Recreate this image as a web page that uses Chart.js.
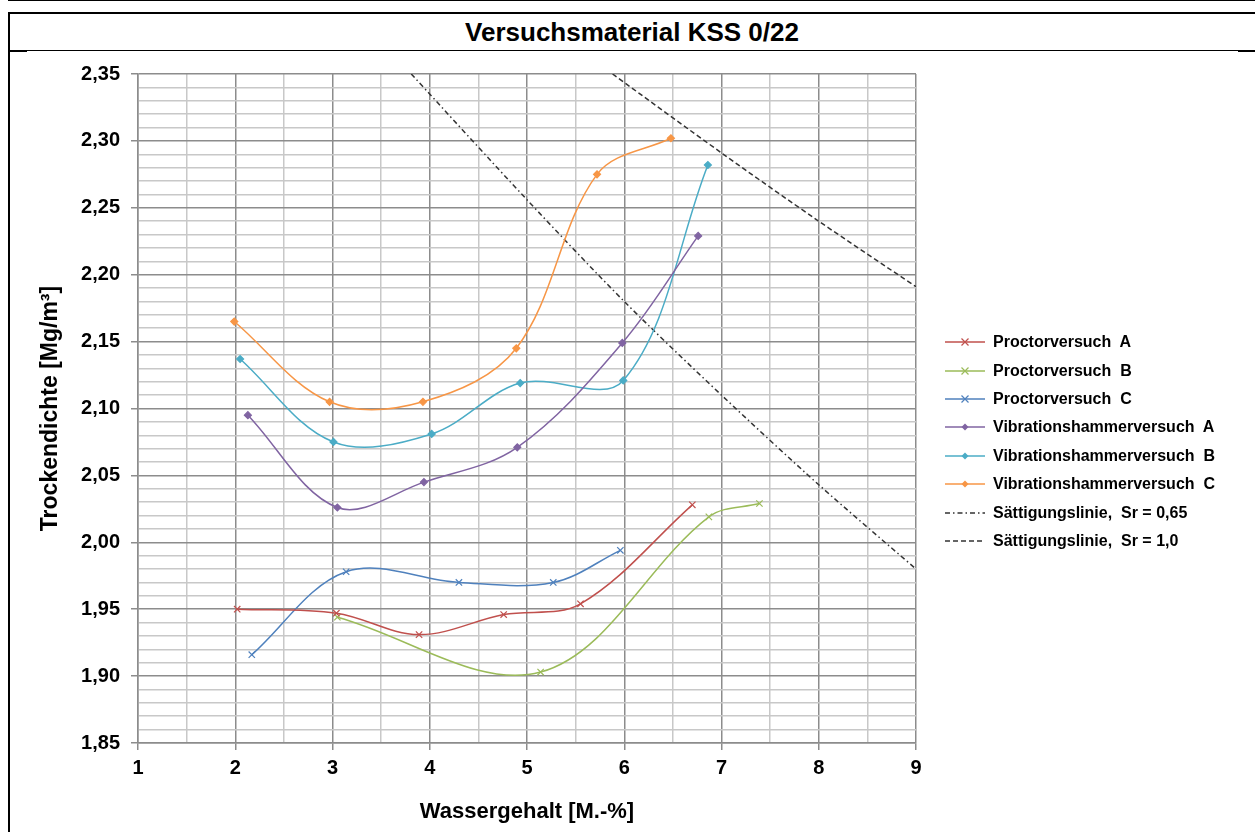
<!DOCTYPE html>
<html>
<head>
<meta charset="utf-8">
<script src="https://cdn.jsdelivr.net/npm/chart.js@4.4.1/dist/chart.umd.min.js"></script>
<style>
  body { margin: 0; background: #fff; font-family: "Liberation Sans", Arial, sans-serif; }
  .ln { position: absolute; background: #000; }
  #title { position: absolute; left: 9px; top: 14px; width: 1246px; height: 36px; line-height: 36px;
           text-align: center; font-weight: bold; font-size: 26px; color: #000; }
  #box { position: absolute; left: 10px; top: 51px; width: 1245px; height: 781px; }
  #legend { position: absolute; left: 945px; top: 328px; }
  .item { height: 28.4px; display: flex; align-items: center; font-weight: bold; font-size: 16px;
          color: #000; white-space: pre; }
  .item svg { margin-right: 8px; }
</style>
</head>
<body>
<div class="ln" style="left:8px;top:0;width:1247px;height:1px"></div>
<div class="ln" style="left:8px;top:12px;width:1247px;height:2px"></div>
<div class="ln" style="left:8px;top:12px;width:2px;height:820px"></div>
<div class="ln" style="left:8px;top:50px;width:1247px;height:1px"></div>
<div class="ln" style="left:8px;top:50px;width:19px;height:2px"></div>
<div class="ln" style="left:1238px;top:50px;width:17px;height:2px"></div>
<div id="title">Versuchsmaterial KSS 0/22</div>
<div id="box"><canvas id="myChart"></canvas></div>
<div id="legend"></div>
<script>
// Proctorversuche
var procA_x = [2.02, 3.04, 3.89, 4.76, 5.55, 6.70];
var procA_y = [1.950, 1.947, 1.931, 1.946, 1.954, 2.028];
var procB_x = [3.05, 5.14, 6.87, 7.39];
var procB_y = [1.944, 1.903, 2.019, 2.029];
var procC_x = [2.17, 3.14, 4.30, 5.27, 5.96];
var procC_y = [1.916, 1.978, 1.970, 1.970, 1.994];
// Vibrationshammerversuche
var vibA_x = [2.13, 3.05, 3.94, 4.90, 5.98, 6.76];
var vibA_y = [2.095, 2.026, 2.045, 2.071, 2.149, 2.229];
var vibB_x = [2.05, 3.01, 4.02, 4.93, 5.99, 6.86];
var vibB_y = [2.137, 2.075, 2.081, 2.119, 2.121, 2.282];
var vibC_x = [1.99, 2.97, 3.93, 4.89, 5.72, 6.48];
var vibC_y = [2.165, 2.105, 2.105, 2.145, 2.275, 2.302];
// Saettigungslinien
var sr065_x = [3.81, 5, 6, 7, 8, 9];
var sr065_y = [2.350, 2.256, 2.180, 2.110, 2.043, 1.980];
var sr100_x = [5.88, 7, 8, 9];
var sr100_y = [2.350, 2.291, 2.240, 2.191];

var labels = ['Proctorversuch  A', 'Proctorversuch  B', 'Proctorversuch  C',
    'Vibrationshammerversuch  A', 'Vibrationshammerversuch  B', 'Vibrationshammerversuch  C',
    'S\u00e4ttigungslinie,  Sr = 0,65', 'S\u00e4ttigungslinie,  Sr = 1,0'];
var colors = ['#C0504D', '#9BBB59', '#4F81BD', '#8064A2', '#4BACC6', '#F79646', '#333333', '#333333'];

function pts(xs, ys) {
    return xs.map(function (x, i) { return { x: x, y: ys[i] }; });
}

function series(i, xs, ys, marker) {
    return {
        label: labels[i],
        data: pts(xs, ys),
        borderColor: colors[i],
        backgroundColor: colors[i],
        borderWidth: 1.5,
        tension: 0.35,
        pointStyle: marker,
        pointRadius: marker == 'crossRot' ? 4.5 : 3.5,
        pointBorderWidth: 1.2,
        fill: false
    };
}

var datasets = [
    series(0, procA_x, procA_y, 'crossRot'),
    series(1, procB_x, procB_y, 'crossRot'),
    series(2, procC_x, procC_y, 'crossRot'),
    series(3, vibA_x, vibA_y, 'rectRot'),
    series(4, vibB_x, vibB_y, 'rectRot'),
    series(5, vibC_x, vibC_y, 'rectRot'),
    {
        label: labels[6], data: pts(sr065_x, sr065_y), borderColor: colors[6],
        borderWidth: 1.5, borderDash: [5, 3, 1.5, 3], tension: 0.3, pointRadius: 0
    },
    {
        label: labels[7], data: pts(sr100_x, sr100_y), borderColor: colors[7],
        borderWidth: 1.5, borderDash: [5, 3], tension: 0.3, pointRadius: 0
    }
];

function majorY(v) { return Math.round(v * 100) % 5 === 0; }
function majorX(v) { return Math.abs(v - Math.round(v)) < 1e-6; }

var tickFont = { family: 'Liberation Sans', size: 20, weight: 'bold' };
var titleFont = { family: 'Liberation Sans', size: 22, weight: 'bold' };

var ctx = document.getElementById('myChart').getContext('2d');
var myChart = new Chart(ctx, {
    type: 'line',
    data: { datasets: datasets },
    options: {
        responsive: true,
        maintainAspectRatio: false,
        animation: false,
        layout: { padding: { left: 0, top: 21, right: 339, bottom: 0 } },
        plugins: { legend: { display: false }, tooltip: { enabled: false } },
        scales: {
            x: {
                type: 'linear', min: 1, max: 9,
                afterFit: function (s) { s.height = 89; },
                ticks: {
                    stepSize: 0.5, autoSkip: false, maxRotation: 0, padding: 6,
                    color: '#000', font: tickFont,
                    callback: function (v) { return majorX(v) ? String(Math.round(v)) : ''; }
                },
                grid: {
                    color: function (c) { return majorX(c.tick.value) ? '#8c8c8c' : '#c8c8c8'; },
                    lineWidth: 1.5, tickLength: 7,
                    tickColor: function (c) { return majorX(c.tick.value) ? '#8c8c8c' : 'rgba(0,0,0,0)'; }
                },
                border: { color: '#8c8c8c', width: 1.5 },
                title: { display: true, text: 'Wassergehalt [M.-%]', color: '#000', font: titleFont, padding: { top: 0, bottom: 7 } }
            },
            y: {
                type: 'linear', min: 1.85, max: 2.35,
                afterFit: function (s) { s.width = 128; },
                ticks: {
                    stepSize: 0.01, autoSkip: false, padding: 11,
                    color: '#000', font: tickFont,
                    callback: function (v) { return majorY(v) ? v.toFixed(2).replace('.', ',') : ''; }
                },
                grid: {
                    color: function (c) { return majorY(c.tick.value) ? '#8c8c8c' : '#c8c8c8'; },
                    lineWidth: 1.5, tickLength: 7,
                    tickColor: function (c) { return majorY(c.tick.value) ? '#8c8c8c' : 'rgba(0,0,0,0)'; }
                },
                border: { color: '#8c8c8c', width: 1.5 },
                title: { display: true, text: 'Trockendichte [Mg/m\u00b3]', color: '#000',
                         font: { family: 'Liberation Sans', size: 23, weight: 'bold' }, padding: { top: 27, bottom: 0 } }
            }
        }
    }
});

// Legende als HTML, aus den Datensaetzen gebaut
var legend = document.getElementById('legend');
datasets.forEach(function (ds) {
    var c = ds.borderColor;
    var dash = ds.borderDash ? ' stroke-dasharray="' + ds.borderDash.join(' ') + '"' : '';
    var mark = '';
    if (ds.pointStyle == 'crossRot') {
        mark = '<path d="M16.5 5.5 L23.5 12.5 M23.5 5.5 L16.5 12.5" stroke="' + c + '" stroke-width="1.2"/>';
    } else if (ds.pointStyle == 'rectRot') {
        mark = '<path d="M20 5.5 L23.5 9 L20 12.5 L16.5 9 Z" fill="' + c + '"/>';
    }
    var svg = '<svg width="40" height="18"><line x1="0" y1="9" x2="40" y2="9" stroke="' + c +
        '" stroke-width="1.5"' + dash + '/>' + mark + '</svg>';
    var div = document.createElement('div');
    div.className = 'item';
    div.innerHTML = svg;
    div.appendChild(document.createTextNode(ds.label));
    legend.appendChild(div);
});
</script>
</body>
</html>
